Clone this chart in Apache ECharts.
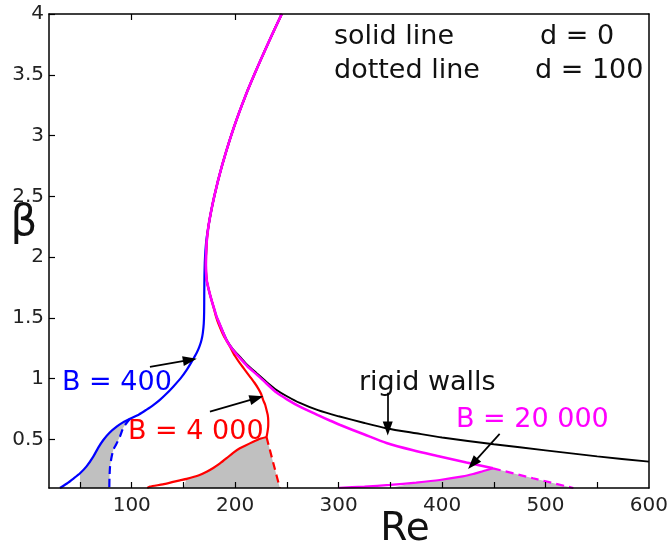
<!DOCTYPE html>
<html>
<head>
<meta charset="utf-8">
<script src="https://cdn.jsdelivr.net/npm/echarts@6/dist/echarts.min.js"></script>
<style>
  html, body { margin: 0; padding: 0; background: #fff; }
  #chart { width: 671px; height: 550px; }
</style>
</head>
<body>
<div id="chart"></div>
<script>
// Neutral stability curves beta(Re) for compliant walls with stiffness B.

// Upper branch shared by all curves (from the top of the plot down to the nose)
const upperRe   = [245.0, 238.1, 231.4, 224.8, 218.4, 212.2, 206.5, 201.1, 196.1, 191.5, 187.2, 183.3, 179.8, 176.7, 174.1, 172.45, 171.8, 171.7];
const upperBeta = [4.0, 3.875, 3.75, 3.625, 3.5, 3.375, 3.25, 3.125, 3.0, 2.875, 2.75, 2.625, 2.5, 2.375, 2.25, 2.125, 2.0, 1.93];

// Rigid walls, lower branch
const rigidRe   = [171.9, 172.4, 174.5, 177, 179.5, 182, 185, 188, 191.7, 197.5, 204.5, 212, 220.7, 230, 240, 250, 262.5, 280, 300, 325, 347, 375, 400, 450, 500, 550, 600];
const rigidBeta = [1.87, 1.813, 1.73, 1.65, 1.58, 1.51, 1.45, 1.39, 1.32, 1.245, 1.18, 1.11, 1.045, 0.975, 0.907, 0.855, 0.80, 0.74, 0.69, 0.635, 0.59, 0.55, 0.515, 0.46, 0.41, 0.36, 0.317];

// B = 400, d = 0 (leaves the upper branch slightly before the nose)
const b400Re   = [172.3, 171.2, 170.6, 170.3, 170.1, 170, 169.6, 168.7, 167.5, 165.5, 162.7, 158, 153, 147, 140.1, 133.5, 127.2, 120.5, 114.4, 107, 98.3, 91.5, 85.4, 78.5, 72.5, 67.5, 62.8, 56.5, 50, 44, 37, 30.6];
const b400Beta = [2.15, 2.05, 1.95, 1.85, 1.7, 1.55, 1.45, 1.375, 1.32, 1.265, 1.21, 1.14, 1.07, 1.0, 0.934, 0.875, 0.825, 0.78, 0.745, 0.705, 0.67, 0.64, 0.605, 0.555, 0.495, 0.43, 0.358, 0.28, 0.221, 0.18, 0.135, 0.1];
// B = 400, d = 100
const b400dRe   = [98.3, 92, 88.6, 85, 82.1, 80.2, 79, 78.5, 78.3];
const b400dBeta = [0.67, 0.6, 0.523, 0.46, 0.413, 0.34, 0.275, 0.19, 0.1];

// B = 4 000, d = 0: upper part down to the turning point, then the lower part
const b4000Re   = [171.9, 172.4, 174.5, 177, 179.3, 181.5, 183.6, 189, 194.9, 199.5, 204.5, 209.5, 214.2, 218.5, 222.2, 225, 227, 229, 230.3, 231.5, 232, 231.9, 231.2, 230.3];
const b4000Beta = [1.87, 1.813, 1.73, 1.65, 1.58, 1.51, 1.457, 1.35, 1.264, 1.19, 1.127, 1.07, 1.017, 0.968, 0.92, 0.875, 0.825, 0.785, 0.742, 0.70, 0.65, 0.605, 0.56, 0.52];
const b4000LowRe   = [230.3, 224, 217.4, 210, 204.5, 198, 191.7, 185, 178.8, 172.4, 165, 153, 146.6, 140, 130, 117.6, 115];
const b4000LowBeta = [0.52, 0.505, 0.48, 0.45, 0.427, 0.39, 0.345, 0.30, 0.265, 0.234, 0.205, 0.175, 0.163, 0.15, 0.13, 0.111, 0.1];
// B = 4 000, d = 100
const b4000dRe   = [230.3, 236.7, 243.2];
const b4000dBeta = [0.52, 0.31, 0.1];

// B = 20 000, d = 0: upper part to the tip, then the lower part back to the left
const b20kRe   = [171.9, 172.4, 174.5, 177, 179.5, 182, 185, 188, 191.7, 197.5, 204.5, 212, 220.7, 230, 240, 250, 262.5, 280, 291.5, 301, 325, 346.3, 372, 397.8, 423.6, 449.3];
const b20kBeta = [1.87, 1.813, 1.73, 1.65, 1.58, 1.51, 1.45, 1.385, 1.315, 1.24, 1.17, 1.10, 1.035, 0.962, 0.885, 0.83, 0.77, 0.70, 0.655, 0.62, 0.54, 0.47, 0.41, 0.36, 0.31, 0.262];
const b20kLowRe   = [449.3, 440, 430, 420, 397.8, 375, 349.5, 325, 301, 300];
const b20kLowBeta = [0.262, 0.24, 0.215, 0.195, 0.166, 0.145, 0.125, 0.112, 0.102, 0.1];
// B = 20 000, d = 100
const b20kdRe   = [449.3, 488, 527];
const b20kdBeta = [0.262, 0.18, 0.1];

// Axis ticks and labels
const reTicks     = [50, 100, 150, 200, 250, 300, 350, 400, 450, 500, 550];
const reLabels    = [100, 200, 300, 400, 500, 600];
const reTopTicks  = [100, 200];
const betaLabels  = [0.5, 1, 1.5, 2, 2.5, 3, 3.5, 4];

// Annotation arrows: [fromRe, fromBeta, toRe, toBeta]
const arrows = [
  [117.6, 1.097, 156.2, 1.154],
  [175.6, 0.728, 220.7, 0.839],
  [347.5, 0.883, 347.5, 0.59],
  [455.7, 0.545, 429.7, 0.30]
];

const zip = (xs, ys) => xs.map((x, i) => [x, ys[i]]);
const upper = zip(upperRe, upperBeta);

const rigidLine = upper.concat(zip(rigidRe, rigidBeta));
const b400Line  = upper.filter(p => p[1] >= 2.25).concat(zip(b400Re, b400Beta));
const b400Dash  = zip(b400dRe, b400dBeta);
const b4000Line = upper.concat(zip(b4000Re, b4000Beta));
const b4000Low  = zip(b4000LowRe, b4000LowBeta);
const b4000Dash = zip(b4000dRe, b4000dBeta);
const b20kLine  = upper.concat(zip(b20kRe, b20kBeta));
const b20kLow   = zip(b20kLowRe, b20kLowBeta);
const b20kDash  = zip(b20kdRe, b20kdBeta);

// Shaded unstable regions between the d = 0 and d = 100 branches
function region(solidPart, dashed, leftRe, betaMin) {
  const pts = [[leftRe, betaMin]];
  solidPart.filter(p => p[0] >= leftRe).sort((a, b) => a[0] - b[0]).forEach(p => pts.push(p));
  dashed.slice(1).forEach(p => pts.push(p));
  return pts;
}
const blueSolidLow = zip(b400Re, b400Beta).filter(p => p[1] <= 0.67);
const fillB400  = region(blueSolidLow, b400Dash, 50, 0.1);
const fillB4000 = region(b4000Low, b4000Dash, 150, 0.1);
const fillB20k  = region(b20kLow, b20kDash, 350, 0.1);

function fillSeries(poly) {
  return {
    type: 'custom',
    silent: true,
    z: 1,
    data: [poly[0]],
    renderItem: function (params, api) {
      return {
        type: 'polygon',
        shape: { points: poly.map(p => api.coord(p)) },
        style: { fill: '#c0c0c0' }
      };
    }
  };
}

function lineSeries(data, color, dashed, width) {
  return {
    type: 'line',
    data: data,
    showSymbol: false,
    symbol: 'none',
    smooth: 0.2,
    silent: true,
    z: 3,
    lineStyle: { color: color, width: width || 2.2, type: dashed ? [8, 5] : 'solid' }
  };
}

const FONT = '"DejaVu Sans", Arial, sans-serif';

const chart = echarts.init(document.getElementById('chart'), null, { renderer: 'canvas' });
chart.setOption({
  animation: false,
  backgroundColor: '#ffffff',
  grid: { left: 49, right: 21, top: 14, bottom: 62, containLabel: false },
  xAxis: [{
    type: 'value', min: 20, max: 600, position: 'bottom', z: 10,
    axisLine: { lineStyle: { color: '#000', width: 1.5 } },
    axisTick: { inside: true, length: 6, customValues: reTicks, lineStyle: { color: '#000', width: 1.2 } },
    axisLabel: { customValues: reLabels, fontSize: 20, fontFamily: FONT, color: '#222', margin: 8 },
    splitLine: { show: false }
  }, {
    type: 'value', min: 20, max: 600, position: 'top', z: 10,
    axisLine: { show: true, lineStyle: { color: '#000', width: 1.5 } },
    axisTick: { inside: true, length: 6, customValues: reTopTicks, lineStyle: { color: '#000', width: 1.2 } },
    axisLabel: { show: false },
    splitLine: { show: false }
  }],
  yAxis: [{
    type: 'value', min: 0.1, max: 4, position: 'left', z: 10,
    axisLine: { lineStyle: { color: '#000', width: 1.5 } },
    axisTick: { inside: true, length: 6, customValues: betaLabels, lineStyle: { color: '#000', width: 1.2 } },
    axisLabel: { customValues: betaLabels, fontSize: 20, fontFamily: FONT, color: '#222', margin: 5 },
    splitLine: { show: false }
  }, {
    type: 'value', min: 0.1, max: 4, position: 'right', z: 10,
    axisLine: { show: true, lineStyle: { color: '#000', width: 1.5 } },
    axisTick: { show: false },
    axisLabel: { show: false },
    splitLine: { show: false }
  }],
  series: [
    fillSeries(fillB400),
    fillSeries(fillB4000),
    fillSeries(fillB20k),
    lineSeries(rigidLine, '#000000', false, 1.9),
    lineSeries(b400Line, '#0000ff', false),
    lineSeries(b400Dash, '#0000ff', true),
    lineSeries(b4000Line, '#ff0000', false),
    lineSeries(b4000Low, '#ff0000', false),
    lineSeries(b4000Dash, '#ff0000', true),
    lineSeries(b20kLine, '#ff00ff', false, 2.6),
    lineSeries(b20kLow, '#ff00ff', false),
    lineSeries(b20kDash, '#ff00ff', true),
    {
      type: 'line',
      data: [],
      silent: true,
      z: 5,
      markLine: {
        silent: true,
        animation: false,
        symbol: ['none', 'triangle'],
        symbolSize: [10, 14],
        label: { show: false },
        lineStyle: { color: '#000', width: 1.7, type: 'solid' },
        data: arrows.map(a => [{ coord: [a[0], a[1]] }, { coord: [a[2], a[3]] }])
      }
    }
  ],
  graphic: [
    { type: 'text', x: 62, y: 383, style: { text: 'B = 400', font: '27px ' + FONT, fill: '#0000ff', align: 'left', verticalAlign: 'middle' } },
    { type: 'text', x: 128, y: 432, style: { text: 'B = 4 000', font: '27px ' + FONT, fill: '#ff0000', align: 'left', verticalAlign: 'middle' } },
    { type: 'text', x: 359, y: 383, style: { text: 'rigid walls', font: '27px ' + FONT, fill: '#111', align: 'left', verticalAlign: 'middle' } },
    { type: 'text', x: 456, y: 420, style: { text: 'B = 20 000', font: '27px ' + FONT, fill: '#ff00ff', align: 'left', verticalAlign: 'middle' } },
    { type: 'text', x: 334, y: 37, style: { text: 'solid line', font: '27px ' + FONT, fill: '#111', align: 'left', verticalAlign: 'middle' } },
    { type: 'text', x: 540, y: 37, style: { text: 'd = 0', font: '27px ' + FONT, fill: '#111', align: 'left', verticalAlign: 'middle' } },
    { type: 'text', x: 334, y: 71, style: { text: 'dotted line', font: '27px ' + FONT, fill: '#111', align: 'left', verticalAlign: 'middle' } },
    { type: 'text', x: 535, y: 71, style: { text: 'd = 100', font: '27px ' + FONT, fill: '#111', align: 'left', verticalAlign: 'middle' } },
    { type: 'text', x: 405, y: 530, style: { text: 'Re', font: '39px ' + FONT, fill: '#111', align: 'center', verticalAlign: 'middle' } },
    { type: 'text', x: 24, y: 224, style: { text: 'β', font: '42px ' + FONT, fill: '#111', align: 'center', verticalAlign: 'middle' } }
  ]
});
</script>
</body>
</html>
